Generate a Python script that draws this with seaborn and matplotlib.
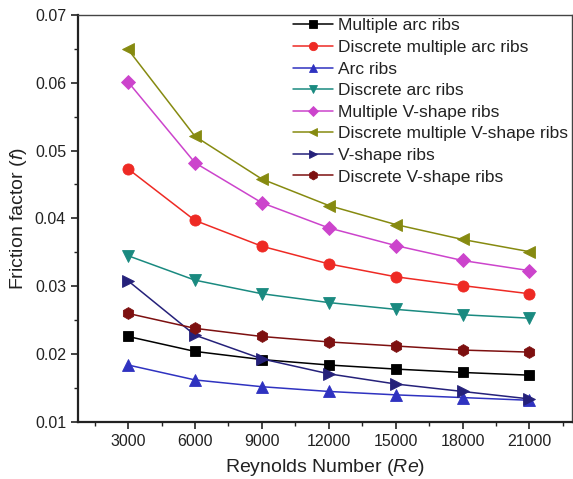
import matplotlib
matplotlib.use("Agg")
import matplotlib.pyplot as plt
import seaborn as sns
import pandas as pd
from matplotlib.ticker import MultipleLocator

re_values = [3000, 6000, 9000, 12000, 15000, 18000, 21000]

multiple_arc = [0.0226, 0.0204, 0.0192, 0.0184, 0.0178, 0.0173, 0.0169]
discrete_multiple_arc = [0.0473, 0.0397, 0.0359, 0.0333, 0.0314, 0.0301, 0.0289]
arc = [0.0184, 0.0162, 0.0152, 0.0145, 0.0140, 0.0136, 0.0132]
discrete_arc = [0.0345, 0.0309, 0.0289, 0.0276, 0.0266, 0.0258, 0.0253]
multiple_v = [0.0601, 0.0482, 0.0423, 0.0386, 0.0360, 0.0338, 0.0323]
discrete_multiple_v = [0.0649, 0.0521, 0.0458, 0.0419, 0.0391, 0.0369, 0.0351]
v_shape = [0.0308, 0.0228, 0.0193, 0.0171, 0.0156, 0.0145, 0.0134]
discrete_v = [0.0260, 0.0238, 0.0226, 0.0218, 0.0212, 0.0206, 0.0203]

y_ticks = [0.01, 0.02, 0.03, 0.04, 0.05, 0.06, 0.07]
y_tick_labels = ["0.01", "0.02", "0.03", "0.04", "0.05", "0.06", "0.07"]

labels = ["Multiple arc ribs", "Discrete multiple arc ribs", "Arc ribs",
          "Discrete arc ribs", "Multiple V-shape ribs",
          "Discrete multiple V-shape ribs", "V-shape ribs", "Discrete V-shape ribs"]
series = [multiple_arc, discrete_multiple_arc, arc, discrete_arc, multiple_v,
          discrete_multiple_v, v_shape, discrete_v]
colors = ["#000000", "#ee2a24", "#2f32c0", "#1a8a80", "#cc44cc",
          "#868a10", "#25217a", "#7d1010"]
markers = ["s", "o", "^", "v", "D", "<", ">", "h"]
msizes = [7, 8, 8, 8, 7, 8, 8, 8.5]

sns.set_theme(style="ticks")
plt.rcParams["font.family"] = ["Liberation Sans", "DejaVu Sans"]
plt.rcParams["mathtext.fontset"] = "custom"
plt.rcParams["mathtext.rm"] = "Liberation Sans"
plt.rcParams["mathtext.it"] = "Liberation Sans:italic"

fig = plt.figure(figsize=(5.73, 4.79), dpi=100)
ax = fig.add_axes([0.136, 0.119, 0.862, 0.850])

for lab, ys, c, m, ms in zip(labels, series, colors, markers, msizes):
    df = pd.DataFrame({"Re": re_values, "f": ys})
    sns.lineplot(data=df, x="Re", y="f", ax=ax, color=c, marker=m,
                 markersize=ms, markeredgecolor=c, markeredgewidth=0.6,
                 linewidth=1.1, label=lab)

ax.set_xlim(750, 22900)
ax.set_ylim(0.01, 0.07)
ax.set_xticks(re_values)
ax.set_xticklabels([str(v) for v in re_values])
ax.xaxis.set_minor_locator(MultipleLocator(1500))
ax.set_yticks(y_ticks)
ax.set_yticklabels(y_tick_labels)
ax.yaxis.set_minor_locator(MultipleLocator(0.005))

ax.tick_params(axis="both", which="major", direction="out", length=5, width=1.2,
               labelsize=11.5, color="#222222", labelcolor="#222222")
ax.tick_params(axis="both", which="minor", direction="out", length=3, width=1.0,
               color="#222222")
ax.tick_params(top=False, right=False, which="both")
for s in ["left", "bottom"]:
    ax.spines[s].set_linewidth(1.6)
    ax.spines[s].set_color("#222222")
for s in ["top", "right"]:
    ax.spines[s].set_linewidth(1.0)
    ax.spines[s].set_color("#444444")

ax.set_xlabel("Reynolds Number $\\mathit{(Re)}$", fontsize=14, color="#222222", labelpad=6)
ax.set_ylabel("Friction factor $\\mathit{(f)}$", fontsize=14, color="#222222", labelpad=4)

leg = ax.legend(loc="upper right", frameon=False, fontsize=12.5,
                handlelength=2.3, handletextpad=0.3, labelspacing=0.37,
                borderaxespad=0.05, borderpad=0.15, markerscale=0.75,
                bbox_to_anchor=(1.0, 1.0))
for t in leg.get_texts():
    t.set_color("#222222")

fig.savefig("out.png", dpi=100)
